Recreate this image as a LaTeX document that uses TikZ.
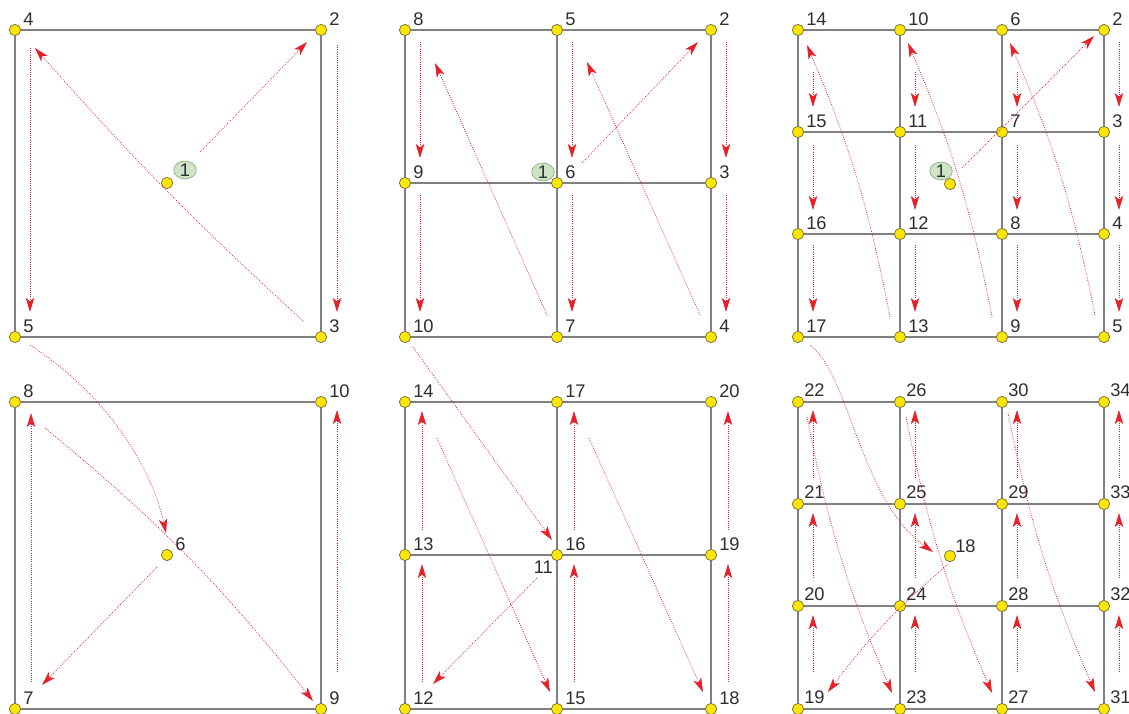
\documentclass[tikz,border=0pt]{standalone}
\usepackage{fontspec}
\setmainfont{Liberation Sans}
\usetikzlibrary{arrows.meta,calc,shapes.geometric}
\definecolor{gridgr}{HTML}{808080}
\definecolor{ptyel}{HTML}{FFE600}
\definecolor{ptedge}{HTML}{6E6A3A}
\definecolor{arred}{HTML}{E8202A}
\definecolor{numgr}{HTML}{2E2E2E}
\definecolor{tagfill}{HTML}{CFE3C6}
\definecolor{tagedge}{HTML}{94BC88}
\tikzset{
  vtx/.style={circle, draw=ptedge, line width=0.5pt, fill=ptyel, minimum size=8pt, inner sep=0pt},
  num/.style={anchor=base west, inner sep=0pt, text=numgr, font=\fontsize{13}{14}\selectfont},
  tag/.style={ellipse, draw=tagedge, line width=0.6pt, fill=tagfill, inner sep=0pt,
              minimum width=16pt, minimum height=11.5pt, text=numgr, font=\fontsize{13}{14}\selectfont},
  wire/.style={draw=gridgr, line width=1.2pt},
  arr/.style={-{Stealth[length=10pt,width=6pt,inset=2.5pt]}, draw=arred, line width=0.55pt, densely dotted},
}

\begin{document}
\begin{tikzpicture}[x=0.025cm, y=-0.025cm]
  \useasboundingbox (0,0) rectangle (1129,713);

  % top left
  \node[vtx] (A1) at (167,183) {};
  \node[vtx] (A2) at (321,30) {};
  \node[vtx] (A3) at (321,337) {};
  \node[vtx] (A4) at (15,30) {};
  \node[vtx] (A5) at (15,337) {};
  \foreach \n in {2,...,5} \node[num] (lA\n) at ($(A\n)+(8,-5)$) {\n};
  \draw[wire] (A4) -- (A2); \draw[wire] (A2) -- (A3);
  \draw[wire] (A3) -- (A5); \draw[wire] (A5) -- (A4);
  \node[tag] (tA) at ($(A1)+(18,-13)$) {1};

  % bottom left
  \node[vtx] (D6) at (167,555) {};
  \node[vtx] (D7) at (15,709) {};
  \node[vtx] (D8) at (15,402) {};
  \node[vtx] (D9) at (321,709) {};
  \node[vtx] (D10) at (321,402) {};
  \foreach \n in {6,...,10} \node[num] (lD\n) at ($(D\n)+(8,-5)$) {\n};
  \draw[wire] (D8) -- (D10); \draw[wire] (D10) -- (D9);
  \draw[wire] (D9) -- (D7); \draw[wire] (D7) -- (D8);

  % top middle
  \foreach \x [count=\c from 0] in {405,557,711} \foreach \y [count=\r from 0] in {30,183,337} {
    \pgfmathtruncatemacro\n{2+3*(2-\c)+\r}
    \node[vtx] (B\n) at (\x,\y) {};
    \node[num] (lB\n) at ($(B\n)+(8,-5)$) {\n};
  }
  \foreach \c in {0,1,2} \foreach \r in {0,1} {
    \pgfmathtruncatemacro\n{2+3*(2-\c)+\r}
    \pgfmathtruncatemacro\m{\n+1}
    \draw[wire] (B\n) -- (B\m);
  }
  \foreach \c in {0,1} \foreach \r in {0,1,2} {
    \pgfmathtruncatemacro\n{2+3*(2-\c)+\r}
    \pgfmathtruncatemacro\m{\n-3}
    \draw[wire] (B\n) -- (B\m);
  }
  \node[tag] (tB) at ($(B6)+(-14,-11)$) {1};

  % bottom middle
  \foreach \x [count=\c from 0] in {405,557,711} \foreach \y [count=\r from 0] in {402,555,709} {
    \pgfmathtruncatemacro\n{12+3*\c+(2-\r)}
    \node[vtx] (E\n) at (\x,\y) {};
    \node[num] (lE\n) at ($(E\n)+(8,-5)$) {\n};
  }
  \foreach \c in {0,1,2} \foreach \r in {0,1} {
    \pgfmathtruncatemacro\n{12+3*\c+(2-\r)}
    \pgfmathtruncatemacro\m{\n-1}
    \draw[wire] (E\n) -- (E\m);
  }
  \foreach \c in {0,1} \foreach \r in {0,1,2} {
    \pgfmathtruncatemacro\n{12+3*\c+(2-\r)}
    \pgfmathtruncatemacro\m{\n+3}
    \draw[wire] (E\n) -- (E\m);
  }
  \node[num, anchor=base east] (lE11) at ($(E16)+(-4,18)$) {11};

  % top right
  \foreach \x [count=\c from 0] in {798,900,1002,1104} \foreach \y [count=\r from 0] in {30,132,234,337} {
    \pgfmathtruncatemacro\n{2+4*(3-\c)+\r}
    \node[vtx] (C\n) at (\x,\y) {};
    \node[num] (lC\n) at ($(C\n)+(8,-5)$) {\n};
  }
  \foreach \c in {0,...,3} \foreach \r in {0,1,2} {
    \pgfmathtruncatemacro\n{2+4*(3-\c)+\r}
    \pgfmathtruncatemacro\m{\n+1}
    \draw[wire] (C\n) -- (C\m);
  }
  \foreach \c in {0,1,2} \foreach \r in {0,...,3} {
    \pgfmathtruncatemacro\n{2+4*(3-\c)+\r}
    \pgfmathtruncatemacro\m{\n-4}
    \draw[wire] (C\n) -- (C\m);
  }
  \node[vtx] (C1) at (950,184) {};
  \node[tag] (tC) at ($(C1)+(-9,-13)$) {1};

  % bottom right
  \foreach \x [count=\c from 0] in {798,900,1002,1104} \foreach \y [count=\r from 0] in {402,504,606,709} {
    \pgfmathtruncatemacro\n{19+4*\c+(3-\r)}
    \node[vtx] (F\n) at (\x,\y) {};
    \node[num] (lF\n) at ($(F\n)+(6,-6)$) {\n};
  }
  \foreach \c in {0,...,3} \foreach \r in {0,1,2} {
    \pgfmathtruncatemacro\n{19+4*\c+(3-\r)}
    \pgfmathtruncatemacro\m{\n-1}
    \draw[wire] (F\n) -- (F\m);
  }
  \foreach \c in {0,1,2} \foreach \r in {0,...,3} {
    \pgfmathtruncatemacro\n{19+4*\c+(3-\r)}
    \pgfmathtruncatemacro\m{\n+4}
    \draw[wire] (F\n) -- (F\m);
  }
  \node[vtx] (F18) at (950,556) {};
  \node[num] (lF18) at ($(F18)+(5,-4)$) {18};

  % arrows, top left
  \draw[arr] ($(A1)+(33,-31)$) -- ($(A2)+(-14,12)$);
  \draw[arr] ($(A3)+(-18,-16)$) to[bend left=3] ($(A4)+(20,18)$);
  \draw[arr] ($(A4)+(15,18)$) -- ($(A5)+(15,-25)$);
  \draw[arr] ($(A2)+(16,15)$) -- ($(A3)+(16,-25)$);
  \draw[arr] ($(A5)+(15,8)$) .. controls ($(A5)+(85,53)$) and ($(D6)+(-17,-95)$) .. ($(D6)+(-1,-22)$);

  % arrows, bottom left
  \draw[arr] ($(D7)+(16,-27)$) -- ($(D8)+(16,11)$);
  \draw[arr] ($(D6)+(-10,12)$) -- ($(D7)+(27,-24)$);
  \draw[arr] ($(D8)+(30,26)$) to[bend left=6] ($(D9)+(-8,-8)$);
  \draw[arr] ($(D9)+(16,-37)$) -- ($(D10)+(16,8)$);

  % arrows, top middle
  \foreach \n in {2,5,8} {
    \pgfmathtruncatemacro\m{\n+1}
    \pgfmathtruncatemacro\k{\n+2}
    \draw[arr] ($(B\n)+(15,12)$) -- ($(B\m)+(15,-25)$);
    \draw[arr] ($(B\m)+(15,12)$) -- ($(B\k)+(15,-25)$);
  }
  \draw[arr] ($(B7)+(-10,-22)$) -- ($(B8)+(30,33)$);
  \draw[arr] ($(B4)+(-11,-22)$) -- ($(B5)+(30,32)$);
  \draw[arr] ($(B6)+(25,-20)$) -- ($(B2)+(-13,12)$);
  \draw[arr] ($(B10)+(8,10)$) -- ($(E16)+(-5,-15)$);

  % arrows, bottom middle
  \foreach \n in {12,15,18} {
    \pgfmathtruncatemacro\m{\n+1}
    \pgfmathtruncatemacro\k{\n+2}
    \draw[arr] ($(E\n)+(17,-27)$) -- ($(E\m)+(17,9)$);
    \draw[arr] ($(E\m)+(17,-25)$) -- ($(E\k)+(17,9)$);
  }
  \draw[arr] ($(E14)+(32,36)$) -- ($(E15)+(-7,-17)$);
  \draw[arr] ($(E17)+(32,36)$) -- ($(E18)+(-8,-17)$);
  \draw[arr] ($(E16)+(-20,23)$) -- ($(E12)+(28,-25)$);

  % arrows, top right
  \foreach \n/\s in {2/12,6/42,10/42,14/42} {
    \pgfmathtruncatemacro\m{\n+1}
    \pgfmathtruncatemacro\k{\n+2}
    \pgfmathtruncatemacro\j{\n+3}
    \draw[arr] ($(C\n)+(15,\s)$) -- ($(C\m)+(15,-25)$);
    \draw[arr] ($(C\m)+(15,13)$) -- ($(C\k)+(15,-24)$);
    \draw[arr] ($(C\k)+(15,11)$) -- ($(C\j)+(15,-25)$);
  }
  \draw[arr] ($(C13)+(-10,-20)$) to[bend right=6] ($(C14)+(9,15)$);
  \draw[arr] ($(C9)+(-10,-20)$) to[bend right=6] ($(C10)+(8,13)$);
  \draw[arr] ($(C5)+(-9,-22)$) to[bend right=6] ($(C6)+(8,13)$);
  \draw[arr] ($(C1)+(12,-16)$) -- ($(C2)+(-10,6)$);
  \draw[arr] ($(C17)+(12,8)$) .. controls ($(C17)+(52,38)$) and ($(F18)+(-90,-56)$) .. ($(F18)+(-17,-4)$);

  % arrows, bottom right
  \foreach \n in {19,23,27,31} {
    \pgfmathtruncatemacro\m{\n+1}
    \pgfmathtruncatemacro\k{\n+2}
    \pgfmathtruncatemacro\j{\n+3}
    \draw[arr] ($(F\n)+(15,-37)$) -- ($(F\m)+(15,9)$);
    \draw[arr] ($(F\m)+(15,-28)$) -- ($(F\k)+(15,9)$);
    \draw[arr] ($(F\k)+(15,-26)$) -- ($(F\j)+(15,8)$);
  }
  \draw[arr] ($(F22)+(9,15)$) to[bend right=6] ($(F23)+(-8,-16)$);
  \draw[arr] ($(F26)+(6,15)$) to[bend right=6] ($(F27)+(-10,-16)$);
  \draw[arr] ($(F30)+(6,11)$) to[bend right=6] ($(F31)+(-9,-17)$);
  \draw[arr] ($(F18)+(-3,9)$) to[bend right=6] ($(F19)+(30,-17)$);
\end{tikzpicture}
\end{document}
